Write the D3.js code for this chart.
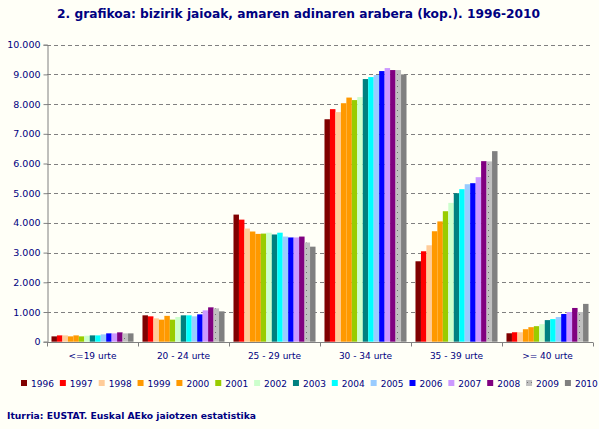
<!DOCTYPE html>
<html>
<head>
<meta charset="utf-8">
<script src="https://cdn.jsdelivr.net/npm/d3@7"></script>
<style>
  body { margin: 0; background: #fffff7; }
  text { font-family: "DejaVu Sans", Verdana, sans-serif; fill: #000080; }
</style>
</head>
<body>
<div id="chart"></div>
<script>
var years = ["1996", "1997", "1998", "1999", "2000", "2001", "2002", "2003",
             "2004", "2005", "2006", "2007", "2008", "2009", "2010"];
var ageGroups = ["<=19 urte", "20 - 24 urte", "25 - 29 urte", "30 - 34 urte", "35 - 39 urte", ">= 40 urte"];

// births per age group, one value per year 1996..2010
var under19 = [180, 213, 213, 180, 213, 180, 202, 213, 213, 247, 281, 281, 315, 281, 281];
var age20_24 = [888, 854, 786, 742, 870, 742, 831, 888, 888, 854, 921, 1056, 1157, 1123, 1022];
var age25_29 = [4280, 4110, 3810, 3710, 3630, 3640, 3670, 3610, 3670, 3540, 3510, 3510, 3540, 3340, 3200];
var age30_34 = [7490, 7830, 7730, 8030, 8220, 8135, 8236, 8843, 8910, 8978, 9112, 9213, 9146, 9146, 9000];
var age35_39 = [2708, 3045, 3247, 3719, 4050, 4393, 4674, 5000, 5135, 5303, 5337, 5539, 6079, 6070, 6416];
var over40 = [284, 318, 318, 420, 489, 523, 591, 727, 761, 830, 932, 1000, 1136, 1000, 1273];

var yTicks = [0, 1000, 2000, 3000, 4000, 5000, 6000, 7000, 8000, 9000, 10000];
var colors = ["#800000", "#ff0000", "#ffcc99", "#ff9900", "#ff9900", "#99cc00", "#ccffcc", "#008080",
              "#00ffff", "#99ccff", "#0000ff", "#cc99ff", "#800080", "url(#dots)", "#808080"];

var seriesByGroup = [under19, age20_24, age25_29, age30_34, age35_39, over40];

var width = 599, height = 429;
var margin = { left: 47, right: 6, top: 44.7, bottom: 87.3 };

var svg = d3.select("#chart").append("svg")
    .attr("width", width)
    .attr("height", height);

svg.append("rect").attr("width", width).attr("height", height).attr("fill", "#fffff7");

// dotted fill used by 2009
var pat = svg.append("defs").append("pattern")
    .attr("id", "dots")
    .attr("patternUnits", "userSpaceOnUse")
    .attr("width", 4).attr("height", 6);
pat.append("rect").attr("width", 4).attr("height", 6).attr("fill", "#c0c0c0");
pat.append("rect").attr("x", 1).attr("y", 2).attr("width", 1).attr("height", 1).attr("fill", "#707070");

var x0 = d3.scaleBand().domain(ageGroups).range([margin.left, width - margin.right]);
var x1 = d3.scaleBand().domain(years).range([0, x0.bandwidth()]).paddingOuter(0.82);
var y = d3.scaleLinear().domain([0, 10000]).range([height - margin.bottom, margin.top]);

var fmt = function (d) { return d3.format(",")(d).replace(/,/g, "."); };

// title
svg.append("text")
    .attr("x", 57).attr("y", 17.5)
    .attr("textLength", 483).attr("lengthAdjust", "spacingAndGlyphs")
    .style("font-size", "12px").style("font-weight", "bold")
    .text("2. grafikoa: bizirik jaioak, amaren adinaren arabera (kop.). 1996-2010");

// dashed gridlines
svg.append("g")
    .selectAll("line")
    .data(yTicks.slice(1))
    .join("line")
    .attr("x1", margin.left).attr("x2", width - 8)
    .attr("y1", function (d) { return Math.round(y(d)) + 0.5; })
    .attr("y2", function (d) { return Math.round(y(d)) + 0.5; })
    .attr("stroke", "#808080")
    .attr("stroke-dasharray", "4,3");

// bars
var groups = svg.append("g")
    .selectAll("g")
    .data(ageGroups)
    .join("g")
    .attr("transform", function (d) { return "translate(" + x0(d) + ",0)"; });

groups.selectAll("rect")
    .data(function (d, i) {
        return years.map(function (yr, j) { return { year: yr, value: seriesByGroup[i][j], color: colors[j] }; });
    })
    .join("rect")
    .attr("x", function (d) { return x1(d.year); })
    .attr("width", x1.bandwidth())
    .attr("y", function (d) { return y(d.value); })
    .attr("height", function (d) { return y(0) - y(d.value); })
    .attr("fill", function (d) { return d.color; });

// y axis
var yAxis = svg.append("g")
    .attr("transform", "translate(" + (margin.left + 0.5) + ",0)")
    .call(d3.axisLeft(y).tickValues(yTicks).tickFormat(fmt).tickSize(4).tickPadding(3));
yAxis.selectAll("path, line").attr("stroke", "#808080");
yAxis.selectAll("text").style("font-size", "9.5px").attr("fill", "#000080");

// x axis
var xAxis = svg.append("g")
    .attr("transform", "translate(0," + (Math.round(y(0)) + 0.5) + ")");
xAxis.append("line")
    .attr("x1", margin.left).attr("x2", width - margin.right)
    .attr("stroke", "#808080");
xAxis.selectAll("line.tick")
    .data(ageGroups.concat(["end"]))
    .join("line")
    .attr("class", "tick")
    .attr("x1", function (d, i) { return Math.round(margin.left + i * x0.step()) + 0.5; })
    .attr("x2", function (d, i) { return Math.round(margin.left + i * x0.step()) + 0.5; })
    .attr("y1", 0).attr("y2", 4)
    .attr("stroke", "#808080");
xAxis.selectAll("text")
    .data(ageGroups)
    .join("text")
    .attr("x", function (d) { return x0(d) + x0.bandwidth() / 2; })
    .attr("y", 16)
    .attr("text-anchor", "middle")
    .style("font-size", "9px")
    .text(function (d) { return d; });

// legend
var legend = svg.append("g")
    .selectAll("g")
    .data(years)
    .join("g")
    .attr("transform", function (d, i) { return "translate(" + (21 + i * 38.85) + ",380)"; });
legend.append("rect")
    .attr("width", 6).attr("height", 6)
    .attr("fill", function (d, i) { return colors[i]; });
legend.append("text")
    .attr("x", 10).attr("y", 6.5)
    .style("font-size", "9px")
    .text(function (d) { return d; });

// source
svg.append("text")
    .attr("x", 7).attr("y", 419)
    .attr("textLength", 249).attr("lengthAdjust", "spacingAndGlyphs")
    .style("font-size", "9.5px").style("font-weight", "bold")
    .text("Iturria: EUSTAT. Euskal AEko jaiotzen estatistika");
</script>
</body>
</html>
